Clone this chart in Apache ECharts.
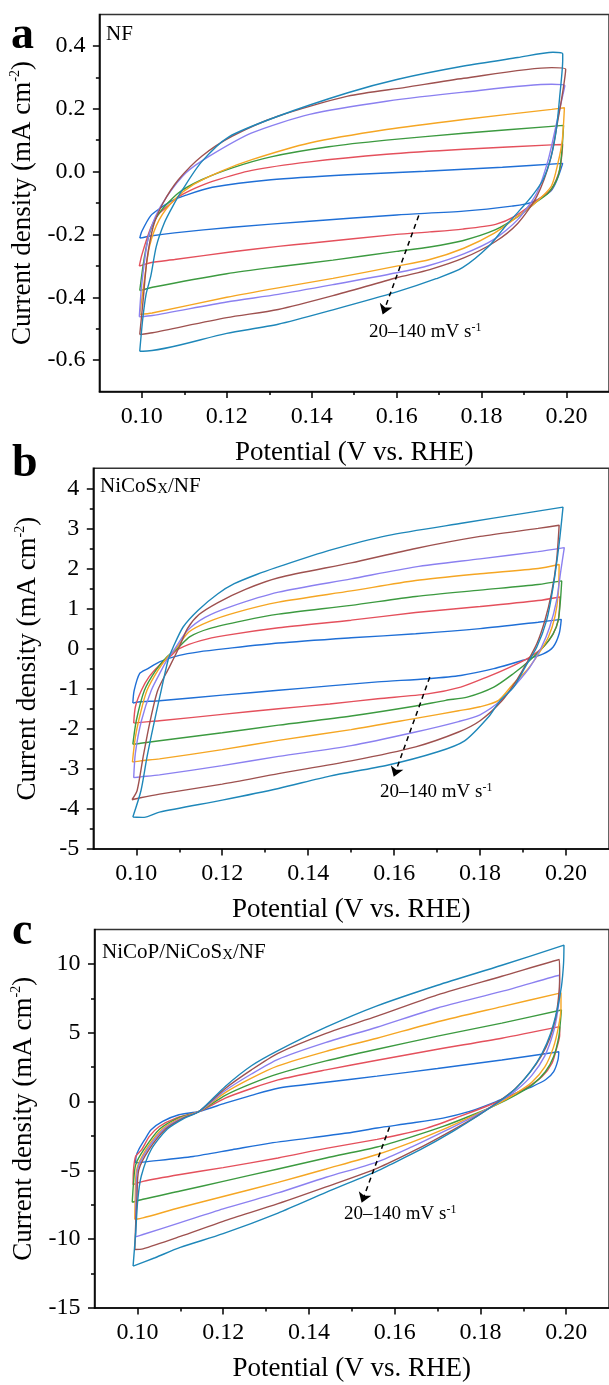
<!DOCTYPE html>
<html><head><meta charset="utf-8">
<script src="https://cdn.jsdelivr.net/npm/echarts@6/dist/echarts.min.js"></script>
<style>html,body{margin:0;padding:0;background:#fff}#c{width:609px;height:1385px}</style>
</head><body><div id="c"></div>
<script>
const FONT = '"Liberation Serif","Times New Roman",serif';
const scanRates = [20, 40, 60, 80, 100, 120, 140];
const lineColors = ['#1f6fd6', '#e4505c', '#3c9a40', '#f5a623', '#8b80f0', '#9e514f', '#1e87b9'];

const xMajor = [0.10, 0.12, 0.14, 0.16, 0.18, 0.20];
const xMinor = [0.11, 0.13, 0.15, 0.17, 0.19];
const yMajorA = [-0.6, -0.4, -0.2, 0.0, 0.2, 0.4];
const yMinorA = [-0.5, -0.3, -0.1, 0.1, 0.3];
const yMajorB = [-5, -4, -3, -2, -1, 0, 1, 2, 3, 4];
const yMinorB = [-4.5, -3.5, -2.5, -1.5, -0.5, 0.5, 1.5, 2.5, 3.5];
const yMajorC = [-15, -10, -5, 0, 5, 10];
const yMinorC = [-12.5, -7.5, -2.5, 2.5, 7.5];

// Panel a: NF  [potential V, current mA cm-2]
const a20 = [[0.0995,-0.212],[0.1000,-0.190],[0.1021,-0.140],[0.1045,-0.115],[0.1069,-0.094],[0.1104,-0.075],[0.1166,-0.050],[0.1304,-0.026],[0.1485,-0.010],[0.1667,0.001],[0.1849,0.014],[0.1991,0.026],[0.1966,-0.057],[0.1918,-0.098],[0.1871,-0.110],[0.1758,-0.126],[0.1600,-0.138],[0.1395,-0.158],[0.1213,-0.177],[0.1077,-0.195],[0.1020,-0.205],[0.0995,-0.212]];
const a40 = [[0.0994,-0.301],[0.1000,-0.265],[0.1021,-0.179],[0.1038,-0.137],[0.1061,-0.110],[0.1088,-0.079],[0.1127,-0.052],[0.1166,-0.031],[0.1259,0.004],[0.1395,0.031],[0.1576,0.055],[0.1758,0.071],[0.1965,0.085],[0.1991,0.086],[0.1984,0.006],[0.1964,-0.057],[0.1933,-0.089],[0.1879,-0.142],[0.1833,-0.168],[0.1755,-0.183],[0.1678,-0.192],[0.1600,-0.200],[0.1395,-0.228],[0.1321,-0.238],[0.1213,-0.255],[0.1077,-0.280],[0.1020,-0.290],[0.0994,-0.301]];
const a60 = [[0.0995,-0.379],[0.1005,-0.280],[0.1018,-0.196],[0.1041,-0.132],[0.1086,-0.068],[0.1141,-0.026],[0.1213,0.012],[0.1304,0.047],[0.1440,0.079],[0.1576,0.100],[0.1758,0.122],[0.1965,0.144],[0.1993,0.147],[0.1988,0.049],[0.1980,-0.015],[0.1957,-0.068],[0.1926,-0.100],[0.1887,-0.142],[0.1833,-0.185],[0.1755,-0.220],[0.1678,-0.240],[0.1600,-0.254],[0.1450,-0.282],[0.1321,-0.303],[0.1200,-0.325],[0.1025,-0.368],[0.0995,-0.379]];
const a80 = [[0.0995,-0.455],[0.1005,-0.355],[0.1018,-0.238],[0.1041,-0.153],[0.1077,-0.089],[0.1122,-0.041],[0.1186,0.001],[0.1259,0.038],[0.1395,0.091],[0.1576,0.134],[0.1758,0.166],[0.1965,0.198],[0.1995,0.203],[0.1990,0.100],[0.1980,0.028],[0.1964,-0.047],[0.1926,-0.100],[0.1885,-0.143],[0.1830,-0.196],[0.1758,-0.244],[0.1678,-0.280],[0.1600,-0.301],[0.1450,-0.340],[0.1321,-0.370],[0.1200,-0.400],[0.1024,-0.450],[0.0995,-0.455]];
const a100 = [[0.0994,-0.462],[0.1000,-0.355],[0.1014,-0.217],[0.1032,-0.143],[0.1059,-0.079],[0.1104,-0.004],[0.1159,0.049],[0.1259,0.123],[0.1395,0.182],[0.1576,0.224],[0.1758,0.253],[0.1965,0.278],[0.1996,0.274],[0.1989,0.230],[0.1975,0.145],[0.1957,0.038],[0.1930,-0.068],[0.1885,-0.153],[0.1830,-0.215],[0.1758,-0.262],[0.1678,-0.298],[0.1600,-0.322],[0.1450,-0.360],[0.1321,-0.391],[0.1200,-0.415],[0.1025,-0.458],[0.0994,-0.462]];
const a120 = [[0.0995,-0.519],[0.1003,-0.409],[0.1012,-0.281],[0.1027,-0.174],[0.1050,-0.100],[0.1086,-0.026],[0.1141,0.049],[0.1213,0.113],[0.1322,0.177],[0.1485,0.240],[0.1621,0.268],[0.1758,0.297],[0.1965,0.331],[0.1998,0.326],[0.1992,0.262],[0.1980,0.166],[0.1962,0.038],[0.1930,-0.079],[0.1885,-0.165],[0.1830,-0.225],[0.1758,-0.275],[0.1678,-0.312],[0.1600,-0.338],[0.1450,-0.395],[0.1321,-0.439],[0.1200,-0.465],[0.1025,-0.513],[0.0995,-0.519]];
const a140 = [[0.0995,-0.572],[0.1002,-0.470],[0.1010,-0.390],[0.1021,-0.333],[0.1034,-0.238],[0.1053,-0.163],[0.1073,-0.110],[0.1096,-0.057],[0.1140,0.030],[0.1204,0.110],[0.1322,0.177],[0.1485,0.251],[0.1603,0.294],[0.1758,0.336],[0.1885,0.363],[0.1968,0.380],[0.1991,0.375],[0.1991,0.356],[0.1984,0.240],[0.1976,0.134],[0.1964,0.049],[0.1945,-0.025],[0.1918,-0.079],[0.1891,-0.121],[0.1856,-0.174],[0.1817,-0.238],[0.1755,-0.306],[0.1693,-0.341],[0.1600,-0.383],[0.1450,-0.440],[0.1321,-0.486],[0.1200,-0.515],[0.1003,-0.572],[0.0995,-0.572]];

// Panel b: NiCoSx/NF
const b20 = [[0.0992,-1.36],[0.0995,-1.05],[0.1008,-0.62],[0.1027,-0.50],[0.1054,-0.33],[0.1100,-0.17],[0.1146,-0.08],[0.1208,0.00],[0.1331,0.14],[0.1500,0.27],[0.1650,0.37],[0.1800,0.50],[0.1935,0.66],[0.1989,0.73],[0.1984,0.37],[0.1970,0.04],[0.1947,-0.13],[0.1900,-0.29],[0.1832,-0.50],[0.1755,-0.67],[0.1678,-0.75],[0.1562,-0.83],[0.1450,-0.93],[0.1331,-1.04],[0.1200,-1.16],[0.1054,-1.30],[0.1005,-1.33],[0.0992,-1.36]];
const b40 = [[0.0994,-1.86],[0.0998,-1.45],[0.1012,-1.04],[0.1030,-0.70],[0.1055,-0.40],[0.1080,-0.18],[0.1100,0.00],[0.1150,0.20],[0.1208,0.33],[0.1331,0.52],[0.1500,0.71],[0.1650,0.90],[0.1800,1.05],[0.1935,1.20],[0.1986,1.29],[0.1982,0.71],[0.1970,0.37],[0.1947,0.04],[0.1916,-0.21],[0.1870,-0.46],[0.1816,-0.71],[0.1755,-0.96],[0.1678,-1.13],[0.1562,-1.25],[0.1450,-1.38],[0.1331,-1.50],[0.1200,-1.64],[0.1054,-1.80],[0.1010,-1.84],[0.0994,-1.86]];
const b60 = [[0.0992,-2.39],[0.1000,-1.80],[0.1019,-1.04],[0.1045,-0.55],[0.1070,-0.22],[0.1095,0.00],[0.1125,0.30],[0.1170,0.50],[0.1250,0.70],[0.1331,0.86],[0.1500,1.08],[0.1650,1.30],[0.1800,1.46],[0.1935,1.60],[0.1990,1.69],[0.1987,1.20],[0.1982,0.71],[0.1970,0.37],[0.1947,0.04],[0.1916,-0.29],[0.1878,-0.62],[0.1832,-0.96],[0.1770,-1.21],[0.1720,-1.29],[0.1650,-1.43],[0.1500,-1.68],[0.1331,-1.91],[0.1200,-2.10],[0.1054,-2.30],[0.1010,-2.36],[0.0992,-2.39]];
const b80 = [[0.0991,-2.83],[0.0998,-2.20],[0.1010,-1.60],[0.1025,-1.04],[0.1050,-0.55],[0.1072,-0.22],[0.1092,0.00],[0.1123,0.42],[0.1170,0.68],[0.1231,0.90],[0.1331,1.16],[0.1500,1.44],[0.1650,1.70],[0.1800,1.87],[0.1935,2.00],[0.1984,2.10],[0.1982,1.37],[0.1974,0.79],[0.1959,0.29],[0.1936,-0.13],[0.1909,-0.54],[0.1878,-0.87],[0.1843,-1.29],[0.1800,-1.45],[0.1750,-1.55],[0.1650,-1.74],[0.1500,-2.02],[0.1331,-2.29],[0.1200,-2.52],[0.1054,-2.75],[0.1010,-2.80],[0.0991,-2.83]];
const b100 = [[0.0994,-3.22],[0.0998,-2.60],[0.1012,-1.80],[0.1035,-1.04],[0.1058,-0.55],[0.1075,-0.22],[0.1090,0.00],[0.1119,0.45],[0.1160,0.78],[0.1220,1.05],[0.1331,1.41],[0.1500,1.74],[0.1650,2.04],[0.1800,2.24],[0.1935,2.42],[0.1996,2.52],[0.1988,1.95],[0.1978,1.20],[0.1962,0.54],[0.1943,0.04],[0.1916,-0.46],[0.1885,-0.87],[0.1849,-1.29],[0.1800,-1.65],[0.1750,-1.82],[0.1650,-2.08],[0.1500,-2.42],[0.1331,-2.69],[0.1200,-2.92],[0.1054,-3.15],[0.1010,-3.20],[0.0994,-3.22]];
const b120 = [[0.0990,-3.77],[0.1002,-3.54],[0.1016,-2.70],[0.1031,-1.87],[0.1050,-1.04],[0.1077,-0.46],[0.1100,0.04],[0.1119,0.50],[0.1146,0.85],[0.1190,1.15],[0.1254,1.48],[0.1331,1.77],[0.1500,2.14],[0.1650,2.50],[0.1800,2.80],[0.1935,3.00],[0.1984,3.08],[0.1978,2.20],[0.1966,1.37],[0.1951,0.71],[0.1932,0.12],[0.1908,-0.37],[0.1885,-0.79],[0.1852,-1.29],[0.1800,-1.80],[0.1750,-2.08],[0.1650,-2.45],[0.1500,-2.80],[0.1331,-3.12],[0.1200,-3.38],[0.1054,-3.63],[0.1010,-3.72],[0.0990,-3.77]];
const b140 = [[0.0992,-4.20],[0.1011,-3.54],[0.1025,-2.70],[0.1041,-1.87],[0.1058,-1.04],[0.1074,-0.29],[0.1086,0.04],[0.1109,0.54],[0.1144,0.96],[0.1190,1.37],[0.1228,1.62],[0.1280,1.85],[0.1325,2.02],[0.1449,2.45],[0.1584,2.82],[0.1764,3.14],[0.1898,3.37],[0.1993,3.53],[0.1984,2.62],[0.1970,1.54],[0.1955,0.71],[0.1932,0.04],[0.1905,-0.46],[0.1878,-0.96],[0.1847,-1.29],[0.1820,-1.70],[0.1764,-2.30],[0.1700,-2.58],[0.1584,-2.91],[0.1450,-3.18],[0.1331,-3.49],[0.1200,-3.78],[0.1054,-4.08],[0.1018,-4.21],[0.0992,-4.20]];

// Panel c: NiCoP/NiCoSx/NF
const c20 = [[0.0996,-4.47],[0.0997,-3.98],[0.1003,-3.50],[0.1017,-2.77],[0.1032,-2.05],[0.1059,-1.44],[0.1097,-0.96],[0.1144,-0.72],[0.1205,-0.12],[0.1266,0.45],[0.1328,0.97],[0.1440,1.40],[0.1559,1.85],[0.1700,2.40],[0.1850,3.02],[0.1983,3.62],[0.1981,3.03],[0.1971,2.18],[0.1952,1.58],[0.1921,1.09],[0.1883,0.61],[0.1837,0.00],[0.1775,-0.72],[0.1713,-1.20],[0.1636,-1.58],[0.1559,-1.92],[0.1490,-2.29],[0.1310,-3.02],[0.1221,-3.50],[0.1130,-3.99],[0.1013,-4.40],[0.0996,-4.47]];
const c40 = [[0.0990,-6.04],[0.0991,-4.95],[0.0996,-3.98],[0.1010,-3.50],[0.1028,-2.53],[0.1051,-1.81],[0.1090,-1.20],[0.1144,-0.72],[0.1205,0.25],[0.1266,0.95],[0.1328,1.57],[0.1440,2.30],[0.1559,3.00],[0.1700,3.80],[0.1850,4.60],[0.1985,5.44],[0.1985,4.84],[0.1979,3.99],[0.1967,2.78],[0.1944,1.82],[0.1906,0.97],[0.1860,0.25],[0.1813,-0.36],[0.1752,-1.08],[0.1675,-1.93],[0.1598,-2.50],[0.1559,-2.75],[0.1440,-3.40],[0.1328,-4.10],[0.1200,-4.80],[0.1100,-5.30],[0.1013,-5.80],[0.0990,-6.04]];
const c60 = [[0.0988,-7.32],[0.0991,-5.92],[0.0996,-4.60],[0.1015,-3.50],[0.1052,-2.00],[0.1095,-1.20],[0.1144,-0.72],[0.1205,0.45],[0.1266,1.30],[0.1328,2.01],[0.1440,2.95],[0.1559,3.80],[0.1700,4.75],[0.1850,5.70],[0.1989,6.65],[0.1987,5.92],[0.1983,4.72],[0.1971,3.27],[0.1952,2.18],[0.1921,1.21],[0.1883,0.49],[0.1837,-0.24],[0.1783,-0.96],[0.1713,-1.81],[0.1636,-2.60],[0.1559,-3.30],[0.1440,-4.10],[0.1328,-4.90],[0.1200,-5.80],[0.1100,-6.50],[0.1013,-7.10],[0.0988,-7.32]];
const c80 = [[0.0994,-8.57],[0.0995,-7.00],[0.0998,-5.00],[0.1020,-3.50],[0.1058,-2.00],[0.1100,-1.20],[0.1144,-0.72],[0.1205,0.65],[0.1266,1.70],[0.1328,2.59],[0.1440,3.65],[0.1559,4.60],[0.1700,5.80],[0.1850,6.90],[0.1988,7.90],[0.1988,6.80],[0.1982,5.40],[0.1970,3.90],[0.1950,2.50],[0.1920,1.40],[0.1883,0.60],[0.1838,-0.20],[0.1785,-1.00],[0.1715,-2.00],[0.1636,-3.00],[0.1559,-3.85],[0.1440,-4.90],[0.1328,-5.87],[0.1200,-6.90],[0.1100,-7.70],[0.1013,-8.45],[0.0994,-8.57]];
const c100 = [[0.0996,-9.83],[0.0996,-9.00],[0.0997,-7.00],[0.1000,-5.00],[0.1023,-3.50],[0.1062,-2.00],[0.1104,-1.20],[0.1144,-0.72],[0.1205,0.80],[0.1266,2.00],[0.1328,3.07],[0.1440,4.30],[0.1559,5.40],[0.1700,6.80],[0.1850,8.00],[0.1984,9.18],[0.1985,8.00],[0.1980,6.50],[0.1970,5.00],[0.1950,3.30],[0.1920,1.90],[0.1883,0.80],[0.1840,-0.10],[0.1790,-1.00],[0.1720,-2.10],[0.1640,-3.30],[0.1559,-4.40],[0.1440,-5.50],[0.1328,-6.64],[0.1200,-7.80],[0.1100,-8.80],[0.1013,-9.66],[0.0996,-9.83]];
const c120 = [[0.0994,-10.75],[0.0996,-9.00],[0.0999,-7.00],[0.1003,-5.00],[0.1027,-3.50],[0.1066,-2.00],[0.1107,-1.20],[0.1144,-0.72],[0.1205,0.95],[0.1266,2.30],[0.1328,3.50],[0.1440,4.95],[0.1559,6.20],[0.1700,7.75],[0.1850,9.10],[0.1984,10.32],[0.1985,9.00],[0.1982,7.50],[0.1975,6.00],[0.1962,4.60],[0.1942,3.30],[0.1915,2.10],[0.1880,0.90],[0.1840,-0.05],[0.1795,-1.00],[0.1728,-2.20],[0.1650,-3.50],[0.1559,-4.85],[0.1440,-6.20],[0.1328,-7.42],[0.1200,-8.70],[0.1100,-9.80],[0.1013,-10.70],[0.0994,-10.75]];
const c140 = [[0.0990,-11.96],[0.0996,-9.54],[0.1001,-7.12],[0.1009,-5.43],[0.1032,-3.50],[0.1070,-2.00],[0.1110,-1.20],[0.1144,-0.72],[0.1205,1.10],[0.1266,2.60],[0.1328,3.70],[0.1440,5.40],[0.1559,6.95],[0.1700,8.45],[0.1850,9.90],[0.1995,11.36],[0.1994,10.03],[0.1989,8.34],[0.1979,6.65],[0.1964,4.96],[0.1944,3.51],[0.1917,2.18],[0.1883,0.97],[0.1844,0.00],[0.1798,-0.96],[0.1736,-2.17],[0.1660,-3.50],[0.1590,-4.58],[0.1559,-5.05],[0.1440,-6.60],[0.1328,-8.10],[0.1200,-9.60],[0.1100,-10.60],[0.1041,-11.35],[0.0990,-11.96]];

const arrowA = [[0.1652,-0.140],[0.1567,-0.455]];
const arrowB = [[0.1683,-0.71],[0.1599,-3.20]];
const arrowC = [[0.1588,-1.86],[0.1523,-7.36]];

const panels = [
  {grid:{left:99, top:14.5, width:516, height:377}, yMin:-0.7, yMax:0.5, yMajor:yMajorA, yMinor:yMinorA, dig:1, nameGap:56,
   loops:[a20,a40,a60,a80,a100,a120,a140], arrow:arrowA},
  {grid:{left:93.3, top:468.3, width:520, height:380.7}, yMin:-5, yMax:4.5, yMajor:yMajorB, yMinor:yMinorB, dig:0, nameGap:50,
   loops:[b20,b40,b60,b80,b100,b120,b140], arrow:arrowB},
  {grid:{left:94.5, top:929.5, width:520, height:379.5}, yMin:-15, yMax:12.5, yMajor:yMajorC, yMinor:yMinorC, dig:0, nameGap:51,
   loops:[c20,c40,c60,c80,c100,c120,c140], arrow:arrowC}
];

const axisColor = '#000';
const grids = [], xAxes = [], yAxes = [], series = [];
panels.forEach((p, i) => {
  grids.push(Object.assign({show:true, borderColor:'#333', borderWidth:1.5, backgroundColor:'transparent'}, p.grid));
  xAxes.push({type:'value', gridIndex:i, min:0.09, max:0.21, position:'bottom',
    axisLine:{show:true, onZero:false, lineStyle:{color:axisColor, width:1.5}},
    axisTick:{show:true, customValues:xMajor, length:6.5, lineStyle:{color:axisColor, width:1.5}},
    axisLabel:{show:true, customValues:xMajor, formatter:v => v.toFixed(2), margin:13, fontFamily:FONT, fontSize:24, color:'#000', lineHeight:24},
    splitLine:{show:false},
    name:'Potential (V vs. RHE)', nameLocation:'middle', nameGap:46,
    nameTextStyle:{fontFamily:FONT, fontSize:27, color:'#000', lineHeight:30}});
  xAxes.push({type:'value', gridIndex:i, min:0.09, max:0.21, position:'bottom',
    axisLine:{show:false, onZero:false}, axisTick:{show:true, customValues:xMinor, length:3.5, lineStyle:{color:axisColor, width:1.5}},
    axisLabel:{show:false}, splitLine:{show:false}});
  yAxes.push({type:'value', gridIndex:i, min:p.yMin, max:p.yMax, position:'left',
    axisLine:{show:true, onZero:false, lineStyle:{color:axisColor, width:1.5}},
    axisTick:{show:true, customValues:p.yMajor, length:6.5, lineStyle:{color:axisColor, width:1.5}},
    axisLabel:{show:true, customValues:p.yMajor, formatter:v => v.toFixed(p.dig), margin:14, fontFamily:FONT, fontSize:24, color:'#000'},
    splitLine:{show:false},
    name:'{t|Current density (mA cm}{s|-2}{t|)}', nameLocation:'middle', nameGap:p.nameGap, nameRotate:90,
    nameTextStyle:{fontFamily:FONT, fontSize:27, color:'#000',
      rich:{t:{fontFamily:FONT, fontSize:27, color:'#000', lineHeight:30},
            s:{fontFamily:FONT, fontSize:14, color:'#000', lineHeight:14, verticalAlign:'top'}}}});
  yAxes.push({type:'value', gridIndex:i, min:p.yMin, max:p.yMax, position:'left',
    axisLine:{show:false, onZero:false}, axisTick:{show:true, customValues:p.yMinor, length:3.5, lineStyle:{color:axisColor, width:1.5}},
    axisLabel:{show:false}, splitLine:{show:false}});
  p.loops.forEach((loop, k) => {
    series.push({type:'line', name:scanRates[k] + ' mV/s', xAxisIndex:2*i, yAxisIndex:2*i, data:loop,
      showSymbol:false, symbol:'none', smooth:0.25, animation:false, silent:true, z:2+k,
      lineStyle:{color:lineColors[k], width:1.4}});
  });
  series.push({type:'lines', coordinateSystem:'cartesian2d', xAxisIndex:2*i, yAxisIndex:2*i, silent:true, animation:false, z:20,
    symbol:['none','arrow'], symbolSize:[0, 10],
    lineStyle:{color:'#000', width:1.5, type:[5,4], opacity:1},
    data:[{coords:p.arrow}]});
});

const labelRich = {
  t:{fontFamily:FONT, fontSize:21, fill:'#000'},
  sub:{fontFamily:FONT, fontSize:15, fill:'#000', padding:[6,0,0,0]},
  a:{fontFamily:FONT, fontSize:19, fill:'#000'},
  sup:{fontFamily:FONT, fontSize:12, fill:'#000', padding:[0,0,9,0]}
};
function txt(x, y, text) {
  return {type:'text', left:x, top:y, silent:true, z:50,
    style:{text:text, rich:labelRich, fill:'#000', font:'21px ' + FONT}};
}
const graphics = [
  {type:'text', left:11, top:13, silent:true, style:{text:'a', font:'bold 46px ' + FONT, fill:'#000'}},
  {type:'text', left:12, top:441, silent:true, style:{text:'b', font:'bold 46px ' + FONT, fill:'#000'}},
  {type:'text', left:12, top:909, silent:true, style:{text:'c', font:'bold 46px ' + FONT, fill:'#000'}},
  txt(106, 24, '{t|NF}'),
  txt(100, 476, '{t|NiCoS}{sub|X}{t|/NF}'),
  txt(102, 942, '{t|NiCoP/NiCoS}{sub|X}{t|/NF}'),
  txt(369, 322, '{a|20–140 mV s}{sup|-1}'),
  txt(380, 782, '{a|20–140 mV s}{sup|-1}'),
  txt(344, 1204, '{a|20–140 mV s}{sup|-1}')
];

const chart = echarts.init(document.getElementById('c'), null, {renderer:'canvas'});
chart.setOption({
  animation:false, backgroundColor:'#fff',
  grid:grids, xAxis:xAxes, yAxis:yAxes, series:series, graphic:graphics
});
</script>
</body></html>
